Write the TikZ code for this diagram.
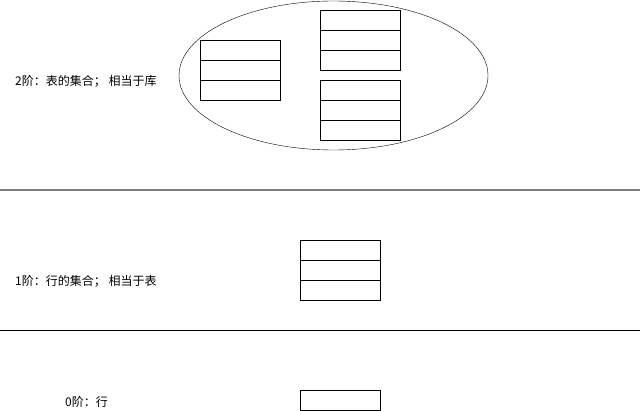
\documentclass[tikz,border=0pt]{standalone}
\usepackage{fontspec}
\setmainfont{Noto Sans CJK SC}
\usepackage{tikz}
\usetikzlibrary{arrows}
\usetikzlibrary{shapes.geometric}

\begin{document}
\begin{tikzpicture}[>=stealth,x=1pt,y=-1pt,
	row/.style={draw,rectangle,minimum width=80pt,minimum height=20pt,inner sep=0pt,line width=0.8pt},
	lbl/.style={anchor=west,inner sep=0pt,font=\fontsize{12}{14}\selectfont}]
\useasboundingbox (0,0) rectangle (642,411);

% 2nd order: the set of tables
\node[ellipse, draw, minimum width=309pt, minimum height=149pt, inner sep=0pt] (db) at (333.5,75.5) {};
\foreach \r in {1,2,3}{
	\node[row] (a\r) at (240,30+\r*20) {};
	\node[row] (b\r) at (360,0+\r*20) {};
	\node[row] (c\r) at (360,70+\r*20) {};
}
\node[lbl] (l2) at (15,81) {2阶：表的集合； 相当于库};

\coordinate (s1) at (0,190);
\coordinate (e1) at (640,190);
\draw[gray,line width=1.5pt] (s1) -- (e1);

% 1st order: the set of rows
\foreach \r in {1,2,3}{
	\node[row] (d\r) at (340,230+\r*20) {};
}
\node[lbl] (l1) at (15,281) {1阶：行的集合； 相当于表};

\coordinate (s2) at (0,330);
\coordinate (e2) at (640,330);
\draw[line width=0.8pt] (s2) -- (e2);

% 0th order: a row
\node[row] (e) at (340,400) {};
\node[lbl] (l0) at (65,402) {0阶：行};
\end{tikzpicture}
\end{document}
